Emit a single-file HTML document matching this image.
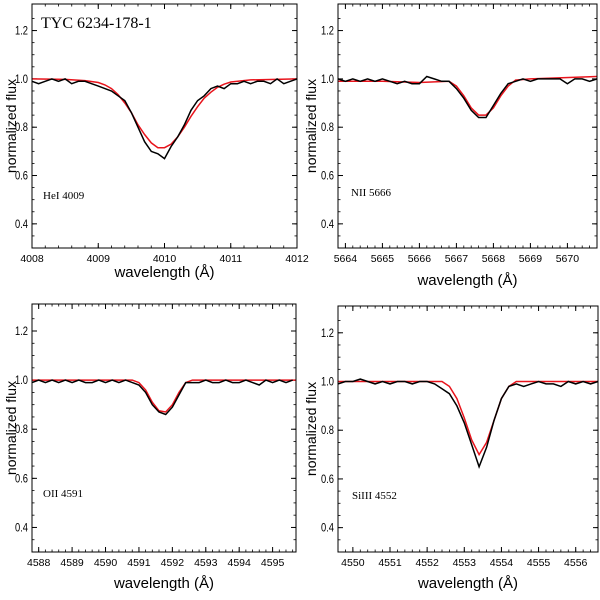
<!DOCTYPE html>
<html><head><meta charset="utf-8"><style>
html,body{margin:0;padding:0;background:#fff;}
svg{display:block;font-family:"Liberation Sans",sans-serif;}
</style></head><body>
<svg id="c" width="600" height="600" viewBox="0 0 600 600"></svg>
<script>
// Panel 1: HeI 4009
const p1ObsX=[4008.0,4008.1,4008.2,4008.3,4008.4,4008.5,4008.6,4008.7,4008.8,4008.9,4009.0,4009.1,4009.2,4009.3,4009.4,4009.5,4009.6,4009.7,4009.8,4009.9,4010.0,4010.1,4010.2,4010.3,4010.4,4010.5,4010.6,4010.7,4010.8,4010.9,4011.0,4011.1,4011.2,4011.3,4011.4,4011.5,4011.6,4011.7,4011.8,4011.9,4012.0];
const p1ObsY=[0.99,0.98,0.99,1.0,0.99,1.0,0.98,0.99,0.99,0.98,0.97,0.96,0.95,0.93,0.91,0.86,0.80,0.74,0.70,0.69,0.67,0.72,0.76,0.81,0.87,0.91,0.93,0.96,0.97,0.96,0.98,0.98,0.99,0.98,0.99,0.99,0.98,1.0,0.98,0.99,1.0];
const p1ModX=[4008.0,4008.5,4008.8,4009.0,4009.1,4009.2,4009.3,4009.4,4009.5,4009.6,4009.7,4009.8,4009.9,4010.0,4010.1,4010.2,4010.3,4010.4,4010.5,4010.6,4010.7,4010.8,4010.9,4011.0,4011.3,4012.0];
const p1ModY=[1.0,0.998,0.993,0.985,0.975,0.96,0.935,0.90,0.86,0.81,0.77,0.735,0.715,0.715,0.73,0.76,0.80,0.845,0.885,0.92,0.945,0.965,0.978,0.987,0.996,1.0];
// Panel 2: NII 5666
const p2ObsX=[5663.8,5664.0,5664.2,5664.4,5664.6,5664.8,5665.0,5665.2,5665.4,5665.6,5665.8,5666.0,5666.2,5666.4,5666.6,5666.8,5667.0,5667.2,5667.4,5667.6,5667.8,5668.0,5668.2,5668.4,5668.6,5668.8,5669.0,5669.2,5669.4,5669.6,5669.8,5670.0,5670.2,5670.4,5670.6,5670.8];
const p2ObsY=[1.0,0.99,1.0,0.99,1.0,0.99,1.0,0.99,0.98,0.99,0.98,0.98,1.01,1.0,0.99,0.99,0.96,0.92,0.87,0.84,0.84,0.89,0.94,0.98,0.99,1.0,0.99,1.0,1.0,1.0,1.0,0.98,1.0,1.0,0.99,1.0];
const p2ModX=[5663.8,5665.0,5666.0,5666.8,5667.0,5667.2,5667.4,5667.6,5667.8,5668.0,5668.2,5668.4,5668.6,5669.0,5670.8];
const p2ModY=[0.99,0.99,0.985,0.99,0.97,0.93,0.88,0.85,0.85,0.88,0.93,0.97,0.995,1.0,1.01];
// Panel 3: OII 4591
const p3ObsX=[4587.8,4588.0,4588.2,4588.4,4588.6,4588.8,4589.0,4589.2,4589.4,4589.6,4589.8,4590.0,4590.2,4590.4,4590.6,4590.8,4591.0,4591.2,4591.4,4591.6,4591.8,4592.0,4592.2,4592.4,4592.6,4592.8,4593.0,4593.2,4593.4,4593.6,4593.8,4594.0,4594.2,4594.4,4594.6,4594.8,4595.0,4595.2,4595.4,4595.6];
const p3ObsY=[0.99,1.0,0.99,1.0,0.99,1.0,0.99,1.0,0.99,0.99,1.0,0.99,1.0,0.99,1.0,0.99,0.98,0.95,0.90,0.87,0.86,0.89,0.94,0.99,0.99,0.99,1.0,0.99,0.99,1.0,0.99,0.99,1.0,0.99,0.98,1.0,0.99,1.0,0.99,1.0];
const p3ModX=[4587.8,4590.8,4591.0,4591.2,4591.4,4591.6,4591.8,4592.0,4592.2,4592.4,4592.6,4595.7];
const p3ModY=[1.0,1.0,0.99,0.96,0.91,0.875,0.87,0.90,0.95,0.99,1.0,1.0];
// Panel 4: SiIII 4552
const p4ObsX=[4549.6,4549.8,4550.0,4550.2,4550.4,4550.6,4550.8,4551.0,4551.2,4551.4,4551.6,4551.8,4552.0,4552.2,4552.4,4552.6,4552.8,4553.0,4553.2,4553.4,4553.6,4553.8,4554.0,4554.2,4554.4,4554.6,4554.8,4555.0,4555.2,4555.4,4555.6,4555.8,4556.0,4556.2,4556.4,4556.6];
const p4ObsY=[0.99,1.0,1.0,1.01,1.0,0.99,1.0,0.99,1.0,1.0,0.99,1.0,1.0,0.99,0.97,0.95,0.90,0.83,0.74,0.65,0.73,0.84,0.93,0.98,0.99,0.98,0.99,1.0,0.99,0.99,0.98,1.0,0.99,1.0,0.99,1.0];
const p4ModX=[4549.6,4552.4,4552.6,4552.8,4553.0,4553.2,4553.4,4553.6,4553.8,4554.0,4554.2,4554.4,4556.6];
const p4ModY=[1.0,1.0,0.98,0.93,0.85,0.76,0.70,0.75,0.84,0.93,0.98,1.0,1.0];
const yTicks=[0.4,0.6,0.8,1.0,1.2];

const svg=document.getElementById('c');
const NS='http://www.w3.org/2000/svg';
function mk(tag,attrs,parent){const e=document.createElementNS(NS,tag);for(const k in attrs)e.setAttribute(k,attrs[k]);(parent||svg).appendChild(e);return e;}

const panels=[
 {id:'hei-4009',x0:32,x1:297,y0:4,y1:248,xmin:4008,xmax:4012,xt:[4008,4009,4010,4011,4012],ox:p1ObsX,oy:p1ObsY,mx:p1ModX,my:p1ModY,lab:'HeI 4009',lx:43,ly:199,title:true,xl:277,yt:16},
 {id:'nii-5666',x0:338,x1:597,y0:4,y1:248,xmin:5663.8,xmax:5670.8,xt:[5664,5665,5666,5667,5668,5669,5670],ox:p2ObsX,oy:p2ObsY,mx:p2ModX,my:p2ModY,lab:'NII 5666',lx:351,ly:196,xl:285,yt:316},
 {id:'oii-4591',x0:32,x1:296,y0:304,y1:552,xmin:4587.8,xmax:4595.7,xt:[4588,4589,4590,4591,4592,4593,4594,4595],ox:p3ObsX,oy:p3ObsY,mx:p3ModX,my:p3ModY,lab:'OII 4591',lx:43,ly:497,xl:588,yt:16},
 {id:'siiii-4552',x0:338,x1:598,y0:306,y1:552,xmin:4549.6,xmax:4556.6,xt:[4550,4551,4552,4553,4554,4555,4556],ox:p4ObsX,oy:p4ObsY,mx:p4ModX,my:p4ModY,lab:'SiIII 4552',lx:352,ly:499,xl:588,yt:316}
];
const YMIN=0.30,YMAX=1.31;
panels.forEach(p=>{
 const g=mk('g',{});
 
 
 const sx=v=>p.x0+(v-p.xmin)/(p.xmax-p.xmin)*(p.x1-p.x0);
 const sy=v=>p.y1-(v-YMIN)/(YMAX-YMIN)*(p.y1-p.y0);
 yTicks.forEach(t=>{
  const y=sy(t);
  mk('line',{x1:p.x0,x2:p.x0+5,y1:y,y2:y,stroke:'#000','stroke-width':1},g);
  mk('line',{x1:p.x1,x2:p.x1-5,y1:y,y2:y,stroke:'#000','stroke-width':1},g);
  const tl=mk('text',{x:p.x0-4,y:y+4,'text-anchor':'end','font-size':12,textLength:13,lengthAdjust:'spacingAndGlyphs'},g);
  tl.textContent=t.toFixed(1);
  
  
 });
 for(let t=0.3;t<=1.3;t+=0.05){const y=sy(t);if(y<p.y0||y>p.y1)continue;
  mk('line',{x1:p.x0,x2:p.x0+2.5,y1:y,y2:y,stroke:'#000','stroke-width':0.8},g);
  mk('line',{x1:p.x1,x2:p.x1-2.5,y1:y,y2:y,stroke:'#000','stroke-width':0.8},g);}
 p.xt.forEach(t=>{
  const x=sx(t);
  mk('line',{x1:x,x2:x,y1:p.y1,y2:p.y1-5,stroke:'#000','stroke-width':1},g);
  mk('line',{x1:x,x2:x,y1:p.y0,y2:p.y0+5,stroke:'#000','stroke-width':1},g);
  const tl=mk('text',{x:x,y:p.y1+14,'text-anchor':'middle','font-size':10.5},g);
  tl.textContent=String(t);
  
  
 });
 for(let t=Math.ceil(p.xmin*5)/5;t<=p.xmax;t+=0.2){const x=sx(t);
  mk('line',{x1:x,x2:x,y1:p.y1,y2:p.y1-2.5,stroke:'#000','stroke-width':0.8},g);
  mk('line',{x1:x,x2:x,y1:p.y0,y2:p.y0+2.5,stroke:'#000','stroke-width':0.8},g);}
 const mp=mk('polyline',{points:p.mx.map((v,i)=>sx(v).toFixed(1)+','+sy(p.my[i]).toFixed(1)).join(' '),fill:'none',stroke:'#e8141c','stroke-width':1.5},g);
 
 
 const op=mk('polyline',{points:p.ox.map((v,i)=>sx(v).toFixed(1)+','+sy(p.oy[i]).toFixed(1)).join(' '),fill:'none',stroke:'#000','stroke-width':1.5},g);
 
 
 const fr=mk('rect',{x:p.x0,y:p.y0,width:p.x1-p.x0,height:p.y1-p.y0,fill:'none',stroke:'#000','stroke-width':1},g);
 
 
 const yl=mk('text',{x:0,y:0,transform:'translate('+p.yt+','+((p.y0+p.y1)/2)+') rotate(-90)','text-anchor':'middle','font-size':14},g);
 yl.textContent='normalized flux';
 
 
 const xl=mk('text',{x:(p.x0+p.x1)/2,y:p.xl,'text-anchor':'middle','font-size':15},g);
 xl.textContent='wavelength (Å)';
 
 
 const ll=mk('text',{x:p.lx,y:p.ly,'font-size':11,'font-family':'Liberation Serif, serif'},g);
 ll.textContent=p.lab;
 
 
 if(p.title){
  const tt=mk('text',{x:41,y:28,'font-size':16,'font-family':'Liberation Serif, serif'},g);
  tt.textContent='TYC 6234-178-1';
  
  
 }
});
</script>
</body></html>
